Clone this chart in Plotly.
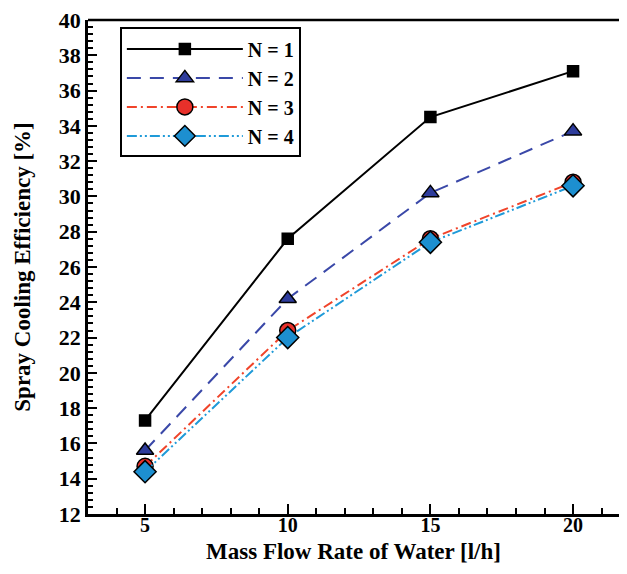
import plotly.graph_objects as go

flow = [5, 10, 15, 20]
eff_n1 = [17.3, 27.6, 34.5, 37.1]
eff_n2 = [15.6, 24.2, 30.2, 33.7]
eff_n3 = [14.7, 22.4, 27.6, 30.8]
eff_n4 = [14.4, 22.0, 27.4, 30.6]
names = ["N = 1", "N = 2", "N = 3", "N = 4"]

FONT = "Liberation Serif"

fig = go.Figure()
series = [
    (eff_n1, names[0], "black", "solid", "square", "black", 11),
    (eff_n2, names[1], "#3a48a8", "14px,9px", "triangle-up", "#2e3c9c", 15),
    (eff_n3, names[2], "#f0442a", "10px,4px,2px,4px", "circle", "#e8302a", 16),
    (eff_n4, names[3], "#1f9ad8", "10px,3px,2px,3px,2px,3px", "diamond", "#1d8fd0", 17),
]
for ys, nm, lc, dash, sym, mc, ms in series:
    fig.add_trace(go.Scatter(
        x=flow, y=ys, name=nm, mode="lines+markers",
        line=dict(color=lc, width=2, dash=dash),
        marker=dict(symbol=sym, color=mc, size=ms, line=dict(color="black", width=1.5)),
    ))

fig.update_layout(
    width=611, height=558,
    margin=dict(l=80, r=0, t=7, b=52),
    paper_bgcolor="white", plot_bgcolor="white",
    font=dict(family=FONT, color="black"),
    legend=dict(
        x=0.06, y=0.985, xanchor="left", yanchor="top",
        bordercolor="black", borderwidth=2, bgcolor="white",
        font=dict(family=FONT, size=20, color="black", weight="bold"),
        itemwidth=116, tracegroupgap=0,
    ),
    showlegend=True,
    shapes=[
        dict(type="rect", xref="paper", yref="paper", x0=0.993, x1=1.0, y0=0.004, y1=0.996,
             fillcolor="white", line=dict(width=0), layer="above"),
        dict(type="line", xref="paper", yref="paper", x0=0, x1=1, y0=1, y1=1,
             line=dict(color="black", width=2.5)),
    ],
)
fig.update_xaxes(
    range=[3, 21.61], tickvals=[5, 10, 15, 20],
    showline=True, linecolor="black", linewidth=2.5, mirror=False,
    ticks="inside", ticklen=10, tickwidth=2, tickcolor="black",
    minor=dict(dtick=1, ticks="inside", ticklen=6, tickwidth=1.5, tickcolor="black", showgrid=False),
    showgrid=False, zeroline=False, ticklabeloverflow="allow", ticklabelstandoff=-9,
    tickfont=dict(family=FONT, size=20, color="black", weight="bold"),
    title=dict(text="Mass Flow Rate of Water [l/h]", font=dict(family=FONT, size=23, color="black", weight="bold"), standoff=9),
)
fig.update_yaxes(
    range=[12, 40], dtick=2,
    showline=True, linecolor="black", linewidth=2.5, mirror=False,
    ticks="inside", ticklen=9, tickwidth=2, tickcolor="black",
    minor=dict(dtick=0.4, ticks="inside", ticklen=5, tickwidth=1.5, tickcolor="black", showgrid=False),
    showgrid=False, zeroline=False, ticklabeloverflow="allow",
    tickfont=dict(family=FONT, size=22, color="black", weight="bold"),
    title=dict(text="Spray Cooling Efficiency [%]", font=dict(family=FONT, size=23, color="black", weight="bold"), standoff=22),
)

fig.write_html("out.html")
